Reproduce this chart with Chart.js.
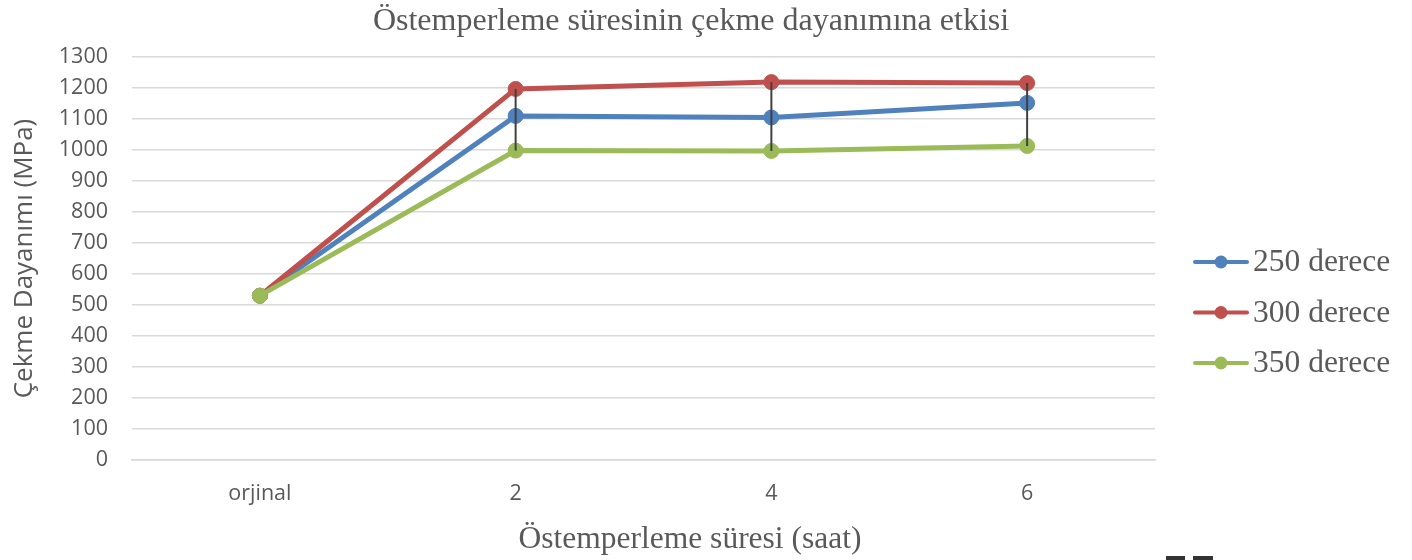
<!DOCTYPE html>
<html lang="tr">
<head>
<meta charset="utf-8">
<title>Östemperleme süresinin çekme dayanımına etkisi</title>
<script src="https://cdn.jsdelivr.net/npm/chart.js@4/dist/chart.umd.min.js"></script>
<style>
  html, body { margin: 0; padding: 0; background: #ffffff; }
  #wrap { position: relative; width: 1412px; height: 560px; overflow: hidden; }
  canvas { display: block; }
  .mark { position: absolute; background: #333333; top: 556px; height: 4px; }
</style>
</head>
<body>
<div id="wrap">
  <canvas id="c" width="1412" height="560"></canvas>
  <div class="mark" style="left:1166px;width:19px"></div>
  <div class="mark" style="left:1193px;width:20px"></div>
</div>
<script>
// Austempering time (hours) on the x axis
const categories = ['orjinal', '2', '4', '6'];

// Tensile strength (MPa) per austempering temperature
const s250 = [530, 1110, 1105, 1152];
const s300 = [530, 1197, 1219, 1216];
const s350 = [530, 998, 997, 1013];

const seriesNames = ['250 derece', '300 derece', '350 derece'];
const seriesColors = ['#4F81BD', '#C0504D', '#9BBB59'];

const chartTitle = 'Östemperleme süresinin çekme dayanımına etkisi';
const xTitle = 'Östemperleme süresi (saat)';
const yTitle = 'Çekme Dayanımı (MPa)';

const textColor = '#595959';
const serif = '"Liberation Serif", "Times New Roman", serif';
const sans = '"Open Sans", "Noto Sans", sans-serif';

// Vertical high-low lines joining the series at each category
const highLowLines = {
  id: 'highLowLines',
  afterDatasetsDraw(chart) {
    const { ctx } = chart;
    const metas = chart.data.datasets.map((_, i) => chart.getDatasetMeta(i));
    const n = chart.data.labels.length;
    ctx.save();
    ctx.strokeStyle = '#404040';
    ctx.lineWidth = 2;
    for (let i = 0; i < n; i++) {
      const ys = metas.map(m => m.data[i].y);
      const x = metas[0].data[i].x;
      const top = Math.min(...ys), bottom = Math.max(...ys);
      if (bottom - top < 1) continue;
      ctx.beginPath();
      ctx.moveTo(x, top);
      ctx.lineTo(x, bottom);
      ctx.stroke();
    }
    ctx.restore();
  }
};

// Chart title, x-axis title and a line-with-marker legend on the right
const annotations = {
  id: 'annotations',
  afterDraw(chart) {
    const { ctx } = chart;
    ctx.save();
    ctx.fillStyle = textColor;
    ctx.textAlign = 'center';
    ctx.textBaseline = 'middle';
    ctx.font = '32px ' + serif;
    ctx.fillText(chartTitle, 691, 22);
    ctx.font = '31.5px ' + serif;
    ctx.fillText(xTitle, 690, 540);

    ctx.textAlign = 'left';
    chart.data.datasets.forEach((ds, i) => {
      const y = 262 + i * 50.5;
      ctx.strokeStyle = ds.borderColor;
      ctx.lineWidth = 4;
      ctx.lineCap = 'round';
      ctx.beginPath();
      ctx.moveTo(1195, y);
      ctx.lineTo(1247, y);
      ctx.stroke();
      ctx.fillStyle = ds.borderColor;
      ctx.beginPath();
      ctx.arc(1221, y, 6.5, 0, Math.PI * 2);
      ctx.fill();
      ctx.fillStyle = textColor;
      ctx.font = '31.5px ' + serif;
      ctx.fillText(ds.label, 1253, y + 1);
    });
    ctx.restore();
  }
};

const seriesValues = [s250, s300, s350];

new Chart(document.getElementById('c'), {
  type: 'line',
  data: {
    labels: categories,
    datasets: seriesValues.map((vals, i) => ({
      label: seriesNames[i],
      data: vals,
      // later series are painted over earlier ones
      order: seriesValues.length - i,
      borderColor: seriesColors[i],
      backgroundColor: seriesColors[i],
      pointBackgroundColor: seriesColors[i],
      pointBorderColor: seriesColors[i],
      borderWidth: 5,
      pointRadius: 7.5,
      pointBorderWidth: 1,
      tension: 0,
      fill: false
    }))
  },
  options: {
    responsive: false,
    animation: false,
    events: [],
    layout: { padding: { left: 0, right: 257, top: 57, bottom: 0 } },
    plugins: {
      legend: { display: false },
      title: { display: false },
      tooltip: { enabled: false }
    },
    scales: {
      x: {
        offset: true,
        grid: { display: false, drawTicks: false },
        border: { display: true, color: '#d9d9d9', width: 1.5 },
        ticks: { padding: 21, color: textColor, font: { family: sans, size: 21.5 } },
        afterFit(scale) { scale.height = 100; }
      },
      y: {
        min: 0,
        max: 1300,
        ticks: {
          stepSize: 100,
          padding: 24,
          color: textColor,
          font: { family: sans, size: 21.5 },
          callback: v => String(v)
        },
        grid: { color: '#d9d9d9', lineWidth: 1.5, drawTicks: false },
        border: { display: false },
        title: {
          display: true,
          text: yTitle,
          color: textColor,
          font: { family: sans, size: 26 },
          padding: { top: 9, bottom: 0 }
        },
        afterFit(scale) { scale.width = 132; }
      }
    }
  },
  plugins: [highLowLines, annotations]
});
</script>
</body>
</html>
